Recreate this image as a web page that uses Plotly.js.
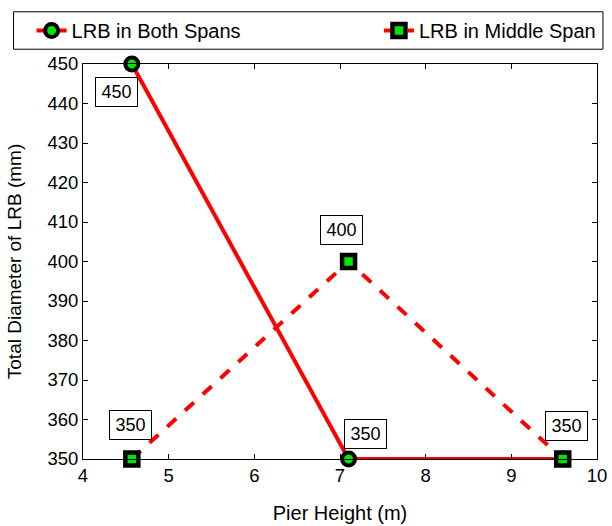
<!DOCTYPE html>
<html><head><meta charset="utf-8">
<script src="https://cdn.plot.ly/plotly-3.0.1.min.js"></script>
<style>body{margin:0;padding:0;background:#fff}#chart{width:612px;height:526px}</style>
</head><body><div id="chart"></div>
<script>
const pierHeight = [4.57, 7.1, 9.6];
const bothSpans = [450, 350, 350];
const middleSpan = [350, 400, 350];
const labelTextsBoth = ["450", "350"];
const labelTextsMiddle = ["350", "400", "350"];
const xTicks = [4, 5, 6, 7, 8, 9, 10];
const yTicks = [350, 360, 370, 380, 390, 400, 410, 420, 430, 440, 450];

const fam = "Liberation Sans, Arial, sans-serif";
const tickFont = {family: fam, size: 18.5, color: "#000"};
const legendFont = {family: fam, size: 20, color: "#000"};
const xTitleFont = {family: fam, size: 20, color: "#000"};
const yTitleFont = {family: fam, size: 19, color: "#000"};
const annFont = {family: fam, size: 18, color: "#000"};

const traces = [
  {x: pierHeight, y: bothSpans, name: "LRB in Both Spans", mode: "lines+markers", legend: "legend",
   cliponaxis: false,
   line: {color: "#ff0000", width: 4},
   marker: {symbol: "circle", size: 13, color: "#00e600", line: {color: "#000", width: 4}}},
  {x: pierHeight, y: middleSpan, name: "LRB in Middle Span", mode: "lines+markers", legend: "legend2",
   cliponaxis: false,
   line: {color: "#ff0000", width: 4, dash: "dash"},
   marker: {symbol: "square", size: 13, color: "#00e600", line: {color: "#000", width: 4.5}}}
];

const ann = (x, y, t) => ({x: x, y: y, xref: "x", yref: "y", text: t, showarrow: false,
  font: annFont, bgcolor: "#fff", bordercolor: "#000", borderwidth: 1, borderpad: 1,
  width: 39, height: 26});

const annotations = [
  ann(4.394, 443.0, labelTextsBoth[0]),
  ann(7.30, 356.3, labelTextsBoth[1]),
  ann(4.55, 358.5, labelTextsMiddle[0]),
  ann(7.02, 408.0, labelTextsMiddle[1]),
  ann(9.64, 358.3, labelTextsMiddle[2])
];

const legBase = {orientation: "h", yanchor: "middle", y: 1.0848, bgcolor: "rgba(0,0,0,0)",
  borderwidth: 0, font: legendFont};

const layout = {
  width: 612, height: 526,
  margin: {l: 83, r: 11, t: 58, b: 67},
  paper_bgcolor: "#fff", plot_bgcolor: "#fff",
  font: tickFont,
  showlegend: true,
  legend: Object.assign({}, legBase, {x: -0.1, xanchor: "left"}),
  legend2: Object.assign({}, legBase, {x: 1.0077, xanchor: "right"}),
  shapes: [{type: "rect", xref: "paper", yref: "paper", x0: -0.1351, x1: 1.0116, y0: 1.0374, y1: 1.1322,
    line: {color: "#000", width: 1}, fillcolor: "rgba(0,0,0,0)", layer: "below"}],
  xaxis: {range: [4, 10], tickvals: xTicks, ticks: "inside", ticklen: 5, tickcolor: "#000",
    showline: true, linecolor: "#000", linewidth: 1, mirror: "ticks", showgrid: false, zeroline: false,
    tickfont: tickFont, title: {text: "Pier Height (m)", font: xTitleFont, standoff: 20}},
  yaxis: {range: [350, 450], tickvals: yTicks, ticks: "inside", ticklen: 5, tickcolor: "#000",
    showline: true, linecolor: "#000", linewidth: 1, mirror: "ticks", showgrid: false, zeroline: false,
    tickfont: tickFont, title: {text: "Total Diameter of LRB (mm)", font: yTitleFont, standoff: 20}},
  annotations: annotations
};

Plotly.newPlot("chart", traces, layout, {displayModeBar: false});
</script></body></html>
